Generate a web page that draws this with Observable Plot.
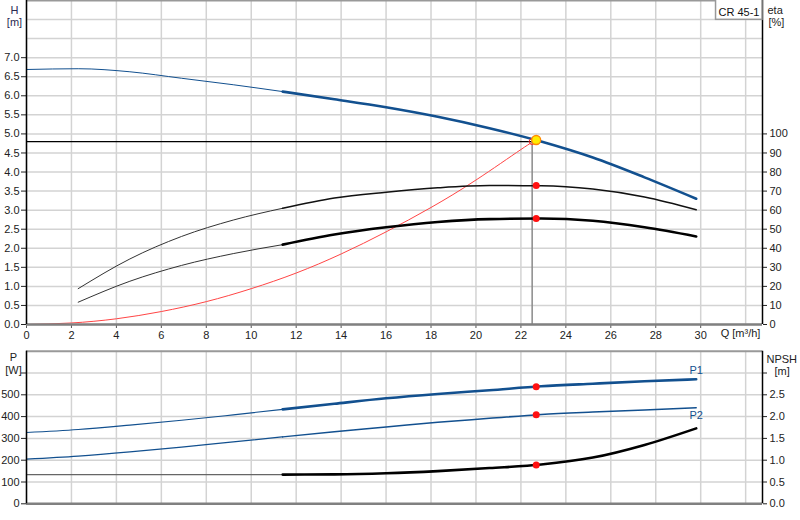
<!DOCTYPE html>
<html>
<head>
<meta charset="utf-8">
<script src="https://cdn.jsdelivr.net/npm/d3@7"></script>
<script src="https://cdn.jsdelivr.net/npm/@observablehq/plot@0.6"></script>
<style>
  html, body { margin: 0; padding: 0; background: white; }
  #chart svg { display: block; }
</style>
</head>
<body>
<div id="chart"></div>
<script>
// ---- data ----
const qFlow    = [0, 2.3, 4.6, 6.9, 9.2, 11.4, 13.7, 16.0, 18.3, 20.6, 22.9, 25.2, 27.5, 29.8];
const headM    = [6.69, 6.71, 6.63, 6.46, 6.29, 6.11, 5.91, 5.70, 5.45, 5.15, 4.80, 4.38, 3.86, 3.30];
const etaUpper = [null, 18.8, 34.4, 46.2, 54.8, 61.0, 66.4, 69.4, 71.7, 72.9, 72.8, 71.1, 66.9, 60.2];
const etaLower = [null, 11.7, 22.7, 31.0, 37.2, 41.9, 47.2, 51.0, 53.8, 55.3, 55.6, 54.4, 51.0, 46.2];
const p1W      = [327, 341, 361, 383, 408, 433, 459, 484, 504, 521, 539, 551, 562, 571];
const p2W      = [205, 219, 238, 260, 284, 307, 331, 352, 374, 392, 410, 421, 430, 441];
const npshM    = [0.67, 0.67, 0.67, 0.67, 0.67, 0.67, 0.675, 0.70, 0.75, 0.82, 0.90, 1.06, 1.35, 1.73];

const qSystem  = [0, 2, 4, 6, 8, 10, 12, 14, 16, 18, 20, 22, 22.68];
const hSystem  = [0, 0.04, 0.15, 0.34, 0.60, 0.94, 1.35, 1.85, 2.43, 3.07, 3.79, 4.59, 4.84];

const dutyQ = 22.68, dutyH = 4.84;
const dutyEta = [72.9, 55.6];
const dutyP = [537, 409];
const dutyNpsh = 0.89;
const reqQ = 22.5, reqH = 4.8;
const thickFrom = 11.4;

const qTicks    = [0, 2, 4, 6, 8, 10, 12, 14, 16, 18, 20, 22, 24, 26, 28, 30];
const qGrid     = [0, 2, 4, 6, 8, 10, 12, 14, 16, 18, 20, 22, 24, 26, 28, 30, 32];
const hTicks    = [0, 0.5, 1, 1.5, 2, 2.5, 3, 3.5, 4, 4.5, 5, 5.5, 6, 6.5, 7];
const hGrid     = [0, 0.5, 1, 1.5, 2, 2.5, 3, 3.5, 4, 4.5, 5, 5.5, 6, 6.5, 7, 7.5, 8];
const etaTicks  = [0, 10, 20, 30, 40, 50, 60, 70, 80, 90, 100];
const pTicks    = [0, 100, 200, 300, 400, 500, 600];
const npshTicks = [0, 0.5, 1, 1.5, 2, 2.5, 3];

const modelName = "CR 45-1";
const etaPerM = 20;     // eta axis: 100 % aligned with 5 m
const wPerNpsh = 200;   // NPSH axis: 3 m aligned with 600 W
const xMax = 32.75, hMax = 8.5, pMax = 700;

// ---- tables ----
const rows = qFlow.map((q, i) => ({q, h: headM[i], ea: etaUpper[i], eb: etaLower[i], p1: p1W[i], p2: p2W[i], npsh: npshM[i]}));
const thin = rows.filter(d => d.q <= thickFrom);
const thick = rows.filter(d => d.q >= thickFrom);
const etaRowsThin = thin.filter(d => d.ea != null);
const sysRows = qSystem.map((q, i) => ({q, h: hSystem[i]}));

const blue = "#12508f";
const gridStyle = {stroke: "#d3d3d3", strokeWidth: 1.5, strokeOpacity: 1};
const font = {fontFamily: "'Liberation Sans', Arial, sans-serif", fontSize: "11px", color: "#222", background: "white", overflow: "visible"};

const topPlot = Plot.plot({
  width: 800, height: 345,
  marginLeft: 26, marginRight: 38, marginTop: 0, marginBottom: 21,
  x: {domain: [0, xMax], axis: null},
  y: {domain: [0, hMax], axis: null},
  style: font,
  marks: [
    Plot.gridX(qGrid, gridStyle),
    Plot.gridY(hGrid, gridStyle),
    Plot.ruleY([hMax], {stroke: "#999", strokeWidth: 2}),
    // system curve and duty lines
    Plot.line(sysRows, {x: "q", y: "h", stroke: "#ff4545", strokeWidth: 1, curve: "natural"}),
    Plot.ruleY([reqH], {x1: 0, x2: reqQ, stroke: "black", strokeWidth: 1.2}),
    Plot.ruleX([reqQ], {y1: 0, y2: reqH, stroke: "#8a8a8a", strokeWidth: 1.5}),
    // efficiency curves
    Plot.line(etaRowsThin, {x: "q", y: d => d.ea / etaPerM, stroke: "#333", strokeWidth: 1, curve: "monotone-x"}),
    Plot.line(thick, {x: "q", y: d => d.ea / etaPerM, stroke: "#111", strokeWidth: 1.5, curve: "monotone-x"}),
    Plot.line(etaRowsThin, {x: "q", y: d => d.eb / etaPerM, stroke: "#333", strokeWidth: 1, curve: "monotone-x"}),
    Plot.line(thick, {x: "q", y: d => d.eb / etaPerM, stroke: "black", strokeWidth: 2.6, curve: "monotone-x"}),
    // head curve
    Plot.line(thin, {x: "q", y: "h", stroke: blue, strokeWidth: 1, curve: "monotone-x"}),
    Plot.line(thick, {x: "q", y: "h", stroke: blue, strokeWidth: 2.6, curve: "monotone-x"}),
    // points
    Plot.dot(dutyEta, {x: () => dutyQ, y: d => d / etaPerM, r: 3.5, fill: "#ff1010", stroke: "none"}),
    Plot.dot([reqH], {x: () => reqQ, y: d => d, r: 3, fill: "none", stroke: "#ff3030", strokeWidth: 1}),
    Plot.dot([dutyH], {x: () => dutyQ, y: d => d, r: 4.5, fill: "#ffec00", stroke: "#ff8a00", strokeWidth: 1.3}),
    // axes
    Plot.axisY(hTicks, {anchor: "left", tickSize: 5, tickPadding: 2, tickFormat: d3.format(".1f"), label: null, fill: "#222"}),
    Plot.axisY(etaTicks.map(e => e / etaPerM), {anchor: "right", tickSize: 4, tickPadding: 3, tickFormat: d => Math.round(d * etaPerM), label: null, fill: "#222"}),
    Plot.axisX(qTicks, {anchor: "bottom", tickSize: 4, tickPadding: 3, label: null, stroke: "#555", fill: "#222"}),
    Plot.ruleY([0], {stroke: "#808080", strokeWidth: 2.5}),
    Plot.ruleX([0], {stroke: "black", strokeWidth: 1.5}),
    Plot.ruleX([xMax], {stroke: "black", strokeWidth: 1.5}),
    // labels
    Plot.text(["H"], {text: d => d, frameAnchor: "top-left", textAnchor: "middle", dx: -12, dy: 6, fill: "#2a2a50"}),
    Plot.text(["[m]"], {text: d => d, frameAnchor: "top-left", textAnchor: "middle", dx: -12, dy: 18, fill: "#2a2a50"}),
    Plot.text(["eta"], {text: d => d, frameAnchor: "top-right", dx: 5, dy: 6, textAnchor: "start", fill: "#222"}),
    Plot.text(["[%]"], {text: d => d, frameAnchor: "top-right", dx: 6, dy: 18, textAnchor: "start", fill: "#222"}),
    Plot.text(["Q [m³/h]"], {text: d => d, frameAnchor: "bottom-right", textAnchor: "middle", dx: -22, dy: 12, fill: "#222"}),
    Plot.text([modelName], {text: d => d, frameAnchor: "top-right", dx: -3, dy: 8, textAnchor: "end", fill: "#111"})
  ]
});

const botPlot = Plot.plot({
  width: 800, height: 175,
  marginLeft: 26, marginRight: 38, marginTop: 5.7, marginBottom: 16.7,
  x: {domain: [0, xMax], axis: null},
  y: {domain: [0, pMax], axis: null},
  style: font,
  marks: [
    Plot.gridX(qGrid, gridStyle),
    Plot.gridY(pTicks, gridStyle),
    Plot.ruleY([pMax], {stroke: "#999", strokeWidth: 2}),
    Plot.line(thin, {x: "q", y: "p2", stroke: blue, strokeWidth: 1.2, curve: "monotone-x"}),
    Plot.line(thick, {x: "q", y: "p2", stroke: blue, strokeWidth: 1.5, curve: "monotone-x"}),
    Plot.line(thin, {x: "q", y: "p1", stroke: blue, strokeWidth: 1.1, curve: "monotone-x"}),
    Plot.line(thick, {x: "q", y: "p1", stroke: blue, strokeWidth: 2.6, curve: "monotone-x"}),
    Plot.line(thin, {x: "q", y: d => d.npsh * wPerNpsh, stroke: "#666", strokeWidth: 1.2, curve: "monotone-x"}),
    Plot.line(thick, {x: "q", y: d => d.npsh * wPerNpsh, stroke: "black", strokeWidth: 2.6, curve: "monotone-x"}),
    Plot.dot(dutyP, {x: () => dutyQ, y: d => d, r: 3.5, fill: "#ff1010"}),
    Plot.dot([dutyNpsh], {x: () => dutyQ, y: d => d * wPerNpsh, r: 3.5, fill: "#ff1010"}),
    Plot.text([rows[rows.length - 1]], {x: "q", y: "p1", text: () => "P1", dy: -9, fill: blue}),
    Plot.text([rows[rows.length - 1]], {x: "q", y: "p2", text: () => "P2", dy: 8, fill: blue}),
    Plot.axisY(pTicks, {anchor: "left", tickSize: 5, tickPadding: 2, tickFormat: d => d === 600 ? "" : d, label: null, fill: "#222"}),
    Plot.axisY(npshTicks.map(v => v * wPerNpsh), {anchor: "right", tickSize: 4, tickPadding: 3, tickFormat: d => d === 600 ? "" : d3.format(".1f")(d / wPerNpsh), label: null, fill: "#222"}),
    Plot.ruleY([0], {stroke: "#808080", strokeWidth: 2.5}),
    Plot.ruleX([0], {stroke: "black", strokeWidth: 1.5}),
    Plot.ruleX([xMax], {stroke: "black", strokeWidth: 1.5}),
    Plot.text(["P"], {text: d => d, frameAnchor: "top-left", textAnchor: "middle", dx: -13, dy: 2, fill: "#222"}),
    Plot.text(["[W]"], {text: d => d, frameAnchor: "top-left", textAnchor: "middle", dx: -13, dy: 15, fill: "#222"}),
    Plot.text(["NPSH"], {text: d => d, frameAnchor: "top-right", dx: 4, dy: 4, textAnchor: "start", fill: "#222"}),
    Plot.text(["[m]"], {text: d => d, frameAnchor: "top-right", dx: 12, dy: 16, textAnchor: "start", fill: "#222"})
  ]
});

const container = document.getElementById("chart");
container.append(topPlot, botPlot);

// box around the model name
const tag = Array.from(topPlot.querySelectorAll("text")).find(t => t.textContent === modelName);
if (tag) {
  const sr = topPlot.getBoundingClientRect();
  const tr = tag.getBoundingClientRect();
  const right = 800 - 38;
  const x0 = tr.left - sr.left - 3;
  const rect = document.createElementNS("http://www.w3.org/2000/svg", "rect");
  rect.setAttribute("x", x0);
  rect.setAttribute("y", -1);
  rect.setAttribute("width", right - x0);
  rect.setAttribute("height", tr.bottom - sr.top + 2);
  rect.setAttribute("fill", "white");
  rect.setAttribute("stroke", "#999");
  rect.setAttribute("stroke-width", "1.5");
  const g = tag.closest("g");
  g.parentNode.insertBefore(rect, g);
}
</script>
</body>
</html>
